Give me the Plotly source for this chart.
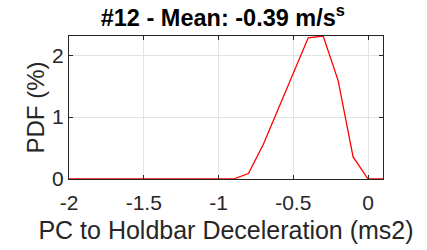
import plotly.graph_objects as go

# Data
bin_centers = [-2.0, -1.9, -1.8, -1.7, -1.6, -1.5, -1.4, -1.3, -1.2, -1.1, -1.0,
               -0.9, -0.8, -0.7, -0.6, -0.5, -0.4, -0.3, -0.2, -0.1, 0.0, 0.1]
pdf_percent = [0, 0, 0, 0, 0, 0, 0, 0, 0, 0, 0,
               0, 0.088, 0.56, 1.135, 1.71, 2.28, 2.31, 1.59, 0.357, 0, 0]

x_tick_vals = [-2, -1.5, -1, -0.5, 0]
x_tick_text = ["-2", "-1.5", "-1", "-0.5", "0"]
y_tick_vals = [0, 1, 2]
y_tick_text = ["0", "1", "2"]

title_text = "<b>#12 - Mean: -0.39 m/s<sup>s</sup></b>"
x_label = "PC to Holdbar Deceleration (ms2)"
y_label = "PDF (%)"

FONT = "Liberation Sans, Arial, Helvetica, sans-serif"
AX = "#262626"

fig = go.Figure()
fig.add_trace(go.Scatter(x=bin_centers, y=pdf_percent, mode="lines",
                         line=dict(color="#ff0000", width=1.3),
                         showlegend=False, hoverinfo="skip"))

axis_common = dict(
    showline=True, linecolor=AX, linewidth=1, mirror="ticks",
    ticks="inside", ticklen=4, tickcolor=AX, tickwidth=1,
    showgrid=True, gridcolor="#e3e3e3", gridwidth=1,
    zeroline=False, automargin=False,
    tickfont=dict(family=FONT, size=21, color=AX),
)

fig.update_layout(
    width=427, height=250,
    margin=dict(l=69, r=44, t=36, b=71, autoexpand=False),
    paper_bgcolor="white", plot_bgcolor="white",
    title=dict(text=title_text, x=0.49, xref="paper", xanchor="center",
               y=0.93, yref="container", yanchor="middle", pad=dict(t=0, b=0),
               automargin=False,
               font=dict(family=FONT, size=23.5, color="#000000")),
    xaxis=dict(range=[-2, 0.1], tickvals=x_tick_vals, ticktext=x_tick_text,
               ticklabelstandoff=5,
               title=dict(text=x_label, standoff=8,
                          font=dict(family=FONT, size=25, color=AX)),
               **axis_common),
    yaxis=dict(range=[0, 2.31], tickvals=y_tick_vals, ticktext=y_tick_text,
               title=dict(text=y_label, standoff=0,
                          font=dict(family=FONT, size=24, color=AX)),
               **axis_common),
)

fig.write_html("out.html",
               config={"displayModeBar": False, "staticPlot": True},
               post_script="document.body.style.margin='0';document.body.style.overflow='hidden';")
